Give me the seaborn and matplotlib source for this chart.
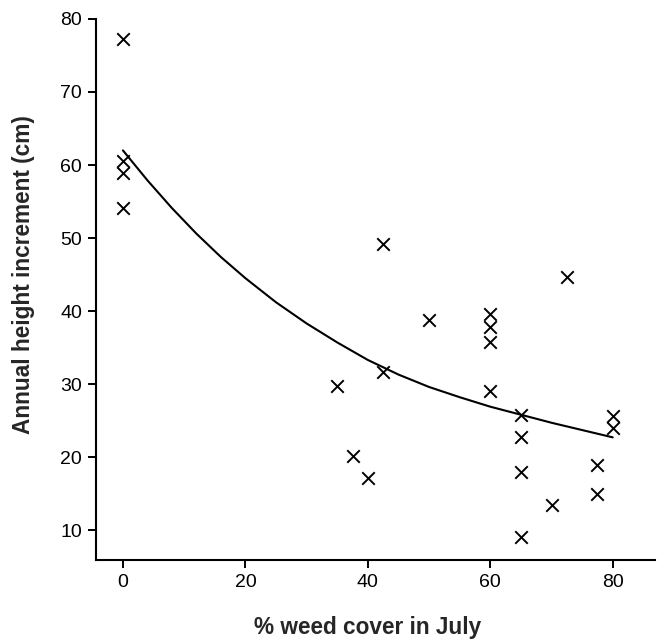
import pandas as pd
import matplotlib
matplotlib.use("Agg")
import matplotlib.pyplot as plt
import seaborn as sns

# data
weed_cover = [0, 0, 0, 0, 35, 37.5, 40, 42.5, 42.5, 50, 60, 60, 60, 60,
              65, 65, 65, 65, 70, 72.5, 77.5, 77.5, 80, 80]
height_inc = [77.2, 60.6, 58.9, 54.1, 29.7, 20.1, 17.1, 49.2, 31.7, 38.8,
              39.6, 37.8, 35.8, 29.0, 25.7, 22.8, 17.9, 9.0, 13.4, 44.7,
              18.9, 14.9, 25.6, 24.0]

# fitted curve
curve_x = [0, 4, 8, 12, 16, 20, 25, 30, 35, 40, 45, 50, 55, 60, 65, 70, 75, 80]
curve_y = [62.0, 57.9, 54.1, 50.6, 47.4, 44.5, 41.2, 38.3, 35.7, 33.3, 31.3,
           29.6, 28.2, 26.9, 25.8, 24.7, 23.7, 22.7]

df = pd.DataFrame({"weed": weed_cover, "height": height_inc})
fit = pd.DataFrame({"weed": curve_x, "height": curve_y})

sns.set_style("ticks")
plt.rcParams['font.family'] = ['Liberation Sans', 'DejaVu Sans']

fig = plt.figure(figsize=(6.58, 6.39), dpi=100)
ax = fig.add_axes([0.1459, 0.1236, 0.8495, 0.8467])

sns.lineplot(data=fit, x="weed", y="height", color="black", linewidth=1.5,
             sort=False, ax=ax)
sns.scatterplot(data=df, x="weed", y="height", marker="x", s=81,
                color="black", linewidth=1.4, ax=ax)

ax.set_xlim(-4.4, 86.9)
ax.set_ylim(5.9, 80)
ax.set_xticks([0, 20, 40, 60, 80])
ax.set_yticks([10, 20, 30, 40, 50, 60, 70, 80])

sns.despine(ax=ax)
for side in ["left", "bottom"]:
    ax.spines[side].set_linewidth(1.5)
    ax.spines[side].set_color("black")
ax.tick_params(axis="both", length=6, width=1.4, pad=4, labelsize=14,
               colors="black")

ax.set_xlabel("% weed cover in July", fontsize=16.3, fontweight="bold", va="center")
ax.set_ylabel("Annual height increment (cm)", fontsize=16.3, fontweight="bold",
              va="center")
ax.xaxis.set_label_coords(0.486, -0.124)
ax.yaxis.set_label_coords(-0.1306, 0.528)

fig.savefig("out.png", dpi=100)
